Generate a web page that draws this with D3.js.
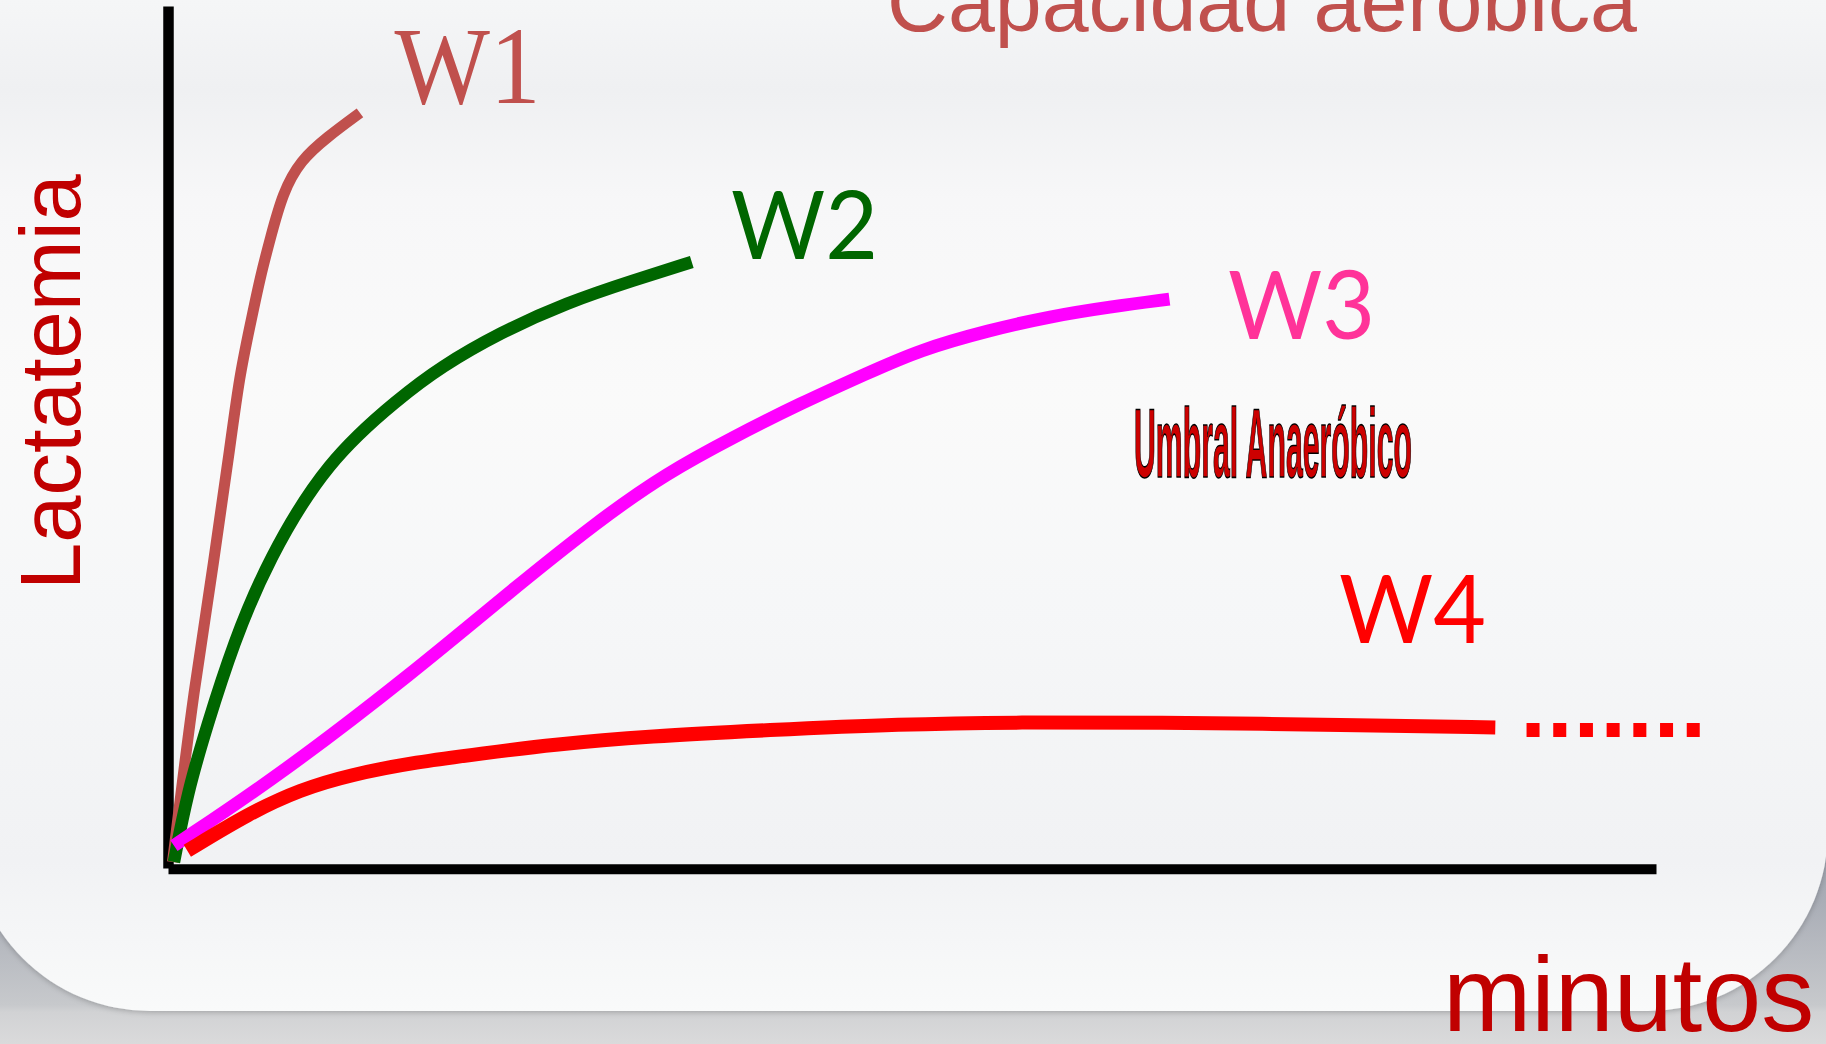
<!DOCTYPE html>
<html>
<head>
<meta charset="utf-8">
<title>Lactatemia vs minutos</title>
<script src="https://cdn.jsdelivr.net/npm/d3@7"></script>
<style>
  html, body { margin: 0; padding: 0; background: #d9d9da; overflow: hidden; }
  svg { display: block; }
</style>
</head>
<body>
<div id="chart"></div>
<script>
// Lactate curves for four work loads (relative units: 0-100 on both axes)
const W1_X = [0.3, 0.6, 1.7, 3.1, 4.2, 4.8, 5.5, 6.2, 6.9, 7.7, 8.9, 10.7, 12.9];
const W1_Y = [0.7, 4.8, 20.3, 35.7, 49.3, 57.0, 62.8, 68.6, 73.2, 78.3, 82.1, 84.8, 87.6];

const W2_X = [0.4, 1.3, 2.6, 4.4, 6.7, 10.7, 15.6, 18.3, 22.3, 26.8, 31.3, 35.2];
const W2_Y = [0.7, 8.7, 16.4, 26.1, 35.7, 47.3, 54.6, 58.1, 62.1, 65.6, 68.2, 70.3];

const W3_X = [0.4, 7.7, 16.7, 22.3, 29.0, 33.5, 38.0, 42.5, 47.0, 50.5, 55.2, 59.3, 63.3, 67.3];
const W3_Y = [2.6, 11.0, 23.0, 31.1, 40.4, 45.8, 50.0, 53.9, 57.4, 60.1, 62.4, 64.0, 65.1, 66.0];

const W4_X = [1.3, 5.5, 8.9, 12.2, 16.7, 21.2, 25.7, 32.4, 40.3, 49.2, 57.3, 66.0, 79.4, 89.2];
const W4_Y = [2.0, 6.4, 9.1, 10.8, 12.3, 13.3, 14.3, 15.3, 16.0, 16.7, 16.9, 16.9, 16.6, 16.3];

// steady-state continuation of W4 (drawn dotted)
const W4_CONT_X = [91.3, 103.0];
const W4_CONT_Y = [16.0, 16.0];

const SERIES_NAMES = ["W1", "W2", "W3", "W4"];
const AXIS_TITLES = { x: "minutos", y: "Lactatemia" };
const TITLE_TEXT = "Capacidad aeróbica";
const THRESHOLD_TEXT = "Umbral Anaeróbico";

const width = 1826, height = 1044;

const svg = d3.select("#chart").append("svg")
  .attr("width", width).attr("height", height);

const defs = svg.append("defs");

// outer backdrop
const outerGrad = defs.append("linearGradient").attr("id", "outerGrad")
  .attr("gradientUnits", "userSpaceOnUse").attr("x1", 0).attr("y1", 0).attr("x2", 0).attr("y2", height);
[[0, "#8e94a3"], [760, "#959aa8"], [900, "#a9adb6"], [1005, "#c7c9cc"], [1012, "#d1d2d4"], [1044, "#dadadb"]]
  .forEach(([o, c]) => outerGrad.append("stop").attr("offset", o / height).attr("stop-color", c));

// slide panel
const panelGrad = defs.append("linearGradient").attr("id", "panelGrad")
  .attr("gradientUnits", "userSpaceOnUse").attr("x1", 0).attr("y1", 0).attr("x2", 0).attr("y2", 1011);
[[0, "#f5f6f7"], [90, "#eff0f2"], [200, "#f7f7f8"], [400, "#fafafa"], [600, "#f6f7f8"], [860, "#f1f2f4"], [1011, "#f9fafa"]]
  .forEach(([o, c]) => panelGrad.append("stop").attr("offset", o / 1011).attr("stop-color", c));

const shadow = defs.append("filter").attr("id", "panelShadow")
  .attr("x", "-10%").attr("y", "-10%").attr("width", "120%").attr("height", "120%");
shadow.append("feGaussianBlur").attr("in", "SourceAlpha").attr("stdDeviation", 3).attr("result", "b");
shadow.append("feOffset").attr("in", "b").attr("dy", 1).attr("result", "o");
shadow.append("feComponentTransfer").attr("in", "o").attr("result", "s")
  .append("feFuncA").attr("type", "linear").attr("slope", 0.25);
const merge = shadow.append("feMerge");
merge.append("feMergeNode").attr("in", "s");
merge.append("feMergeNode").attr("in", "SourceGraphic");

svg.append("rect").attr("width", width).attr("height", height).attr("fill", "url(#outerGrad)");
svg.append("rect")
  .attr("x", -30).attr("y", -400).attr("width", 1858).attr("height", 1411)
  .attr("rx", 180).attr("ry", 180)
  .attr("fill", "url(#panelGrad)")
  .attr("filter", "url(#panelShadow)");

// scales
const x = d3.scaleLinear().domain([0, 100]).range([168, 1656]);
const y = d3.scaleLinear().domain([0, 100]).range([868, 6]);

// axes: plain heavy lines, no ticks
const xAxis = svg.append("g").attr("transform", "translate(0,868.7)")
  .call(d3.axisBottom(x).ticks(0).tickSizeOuter(0));
const yAxis = svg.append("g").attr("transform", "translate(168,0)")
  .call(d3.axisLeft(y).ticks(0).tickSizeOuter(0));
xAxis.select(".domain").attr("stroke", "#000").attr("stroke-width", 10);
yAxis.select(".domain").attr("stroke", "#000").attr("stroke-width", 10.5);

const zip = (xs, ys) => xs.map((v, i) => [v, ys[i]]);
const line = d3.line()
  .x(d => x(d[0])).y(d => y(d[1]))
  .curve(d3.curveBasis);

const curves = [
  { name: SERIES_NAMES[0], pts: zip(W1_X, W1_Y), color: "#c0504d", w: 11 },
  { name: SERIES_NAMES[1], pts: zip(W2_X, W2_Y), color: "#006600", w: 12.5 },
  { name: SERIES_NAMES[2], pts: zip(W3_X, W3_Y), color: "#ff00ff", w: 13 },
  { name: SERIES_NAMES[3], pts: zip(W4_X, W4_Y), color: "#ff0000", w: 14 }
];

svg.append("g").selectAll("path")
  .data(curves)
  .join("path")
  .attr("d", d => line(d.pts))
  .attr("fill", "none")
  .attr("stroke", d => d.color)
  .attr("stroke-width", d => d.w)
  .attr("stroke-linecap", "butt");

svg.append("path")
  .attr("d", d3.line().x(d => x(d[0])).y(d => y(d[1]))(zip(W4_CONT_X, W4_CONT_Y)))
  .attr("fill", "none")
  .attr("stroke", "#ff0000")
  .attr("stroke-width", 14)
  .attr("stroke-dasharray", "13 13.7");

// curve labels
const labels = svg.append("g");
labels.append("text")
  .attr("x", 394.5).attr("y", 103)
  .attr("font-family", "'Liberation Serif', 'Times New Roman', serif")
  .attr("font-size", 110)
  .attr("textLength", 146)
  .attr("lengthAdjust", "spacingAndGlyphs")
  .attr("fill", "#c0504d")
  .text(SERIES_NAMES[0]);

const sansLabel = [
  { t: SERIES_NAMES[1], x: 731, y: 259, c: "#006600" },
  { t: SERIES_NAMES[2], x: 1228, y: 339, c: "#ff3399" },
  { t: SERIES_NAMES[3], x: 1339, y: 643, c: "#ff0000" }
];
labels.selectAll("text.w")
  .data(sansLabel)
  .join("text")
  .attr("class", "w")
  .attr("x", d => d.x).attr("y", d => d.y)
  .attr("font-family", "Lato, 'Open Sans', sans-serif")
  .attr("font-size", 95)
  .attr("textLength", 147)
  .attr("lengthAdjust", "spacingAndGlyphs")
  .attr("fill", d => d.c)
  .text(d => d.t);

// title (partly cut at the top)
svg.append("text")
  .attr("x", 887).attr("y", 31)
  .attr("font-family", "'Liberation Sans', Arial, sans-serif")
  .attr("font-size", 84)
  .attr("textLength", 750)
  .attr("lengthAdjust", "spacingAndGlyphs")
  .attr("fill", "#c0504d")
  .text(TITLE_TEXT);

// anaerobic threshold note
svg.append("text")
  .attr("x", 1134).attr("y", 477)
  .attr("font-family", "'Liberation Sans Narrow', 'Liberation Sans', Arial, sans-serif")
  .attr("font-size", 99)
  .attr("font-weight", "bold")
  .attr("textLength", 278)
  .attr("lengthAdjust", "spacingAndGlyphs")
  .attr("fill", "#cc0000")
  .attr("stroke", "#000")
  .attr("stroke-width", 1.6)
  .text(THRESHOLD_TEXT);

// axis titles
svg.append("text")
  .attr("transform", "translate(80,590) rotate(-90)")
  .attr("font-family", "'Liberation Sans', Arial, sans-serif")
  .attr("font-size", 85)
  .attr("fill", "#c00000")
  .text(AXIS_TITLES.y);

svg.append("text")
  .attr("x", 1443).attr("y", 1031)
  .attr("font-family", "'Liberation Sans', Arial, sans-serif")
  .attr("font-size", 106)
  .attr("fill", "#c00000")
  .text(AXIS_TITLES.x);
</script>
</body>
</html>
